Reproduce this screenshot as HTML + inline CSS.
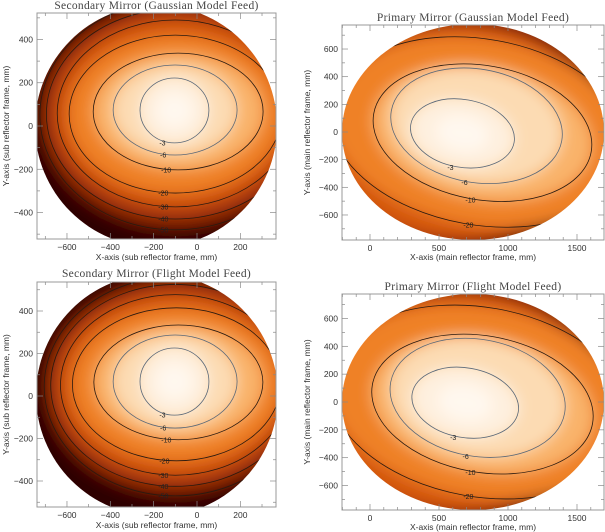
<!DOCTYPE html>
<html><head><meta charset="utf-8">
<style>
html,body{margin:0;padding:0;background:#fff;}
svg{display:block;font-family:"Liberation Sans",sans-serif;}
</style></head>
<body>
<svg id="chart" width="605" height="532" viewBox="0 0 605 532" xmlns="http://www.w3.org/2000/svg">
<defs>
<filter id="blur" x="-10%" y="-10%" width="120%" height="120%"><feGaussianBlur stdDeviation="7"/></filter>
</defs>
</svg>
<script>
// ---- data arrays ----
const levelsSec = [-3, -6, -10, -20, -30, -40, -50];
const secGaussCx = [-104, -101, -87, -100, -100, -100, -100];
const secGaussCy = [72, 74, 67, 55, 58, 55, 50];
const secGaussA  = [159, 286, 392, 490, 545, 595, 625];
const secGaussB  = [150, 208, 270, 365, 432, 485, 530];
const secFlightCx = [-104, -101, -86, -95, -100, -100, -100];
const secFlightCy = [68, 68, 64, 55, 52, 50, 45];
const secFlightA  = [159, 286, 390, 480, 530, 575, 605];
const secFlightB  = [158, 219, 270, 360, 425, 475, 515];
const levelsPri = [-3, -6, -10, -20, -30, -40];
const priGaussCx = [670, 772, 815, 800, 650, 650];
const priGaussCy = [-10, 45, -5, 0, 0, 0];
const priGaussA  = [380, 627, 800, 1100, 980, 1080];
const priGaussB  = [245, 410, 485, 672, 760, 800];
const priFlightCx = [690, 780, 815, 800, 650, 650];
const priFlightCy = [-5, 30, -15, 0, 0, 0];
const priFlightA  = [390, 640, 810, 1110, 990, 1090];
const priFlightB  = [250, 420, 490, 680, 765, 805];
const secXTicks = [-600, -400, -200, 0, 200];
const secYTicks = [400, 200, 0, -200, -400];
const priXTicks = [0, 500, 1000, 1500];
const priYTicks = [600, 400, 200, 0, -200, -400, -600];
const titles = ["Secondary Mirror (Gaussian Model Feed)", "Primary Mirror (Gaussian Model Feed)",
                "Secondary Mirror (Flight Model Feed)", "Primary Mirror (Flight Model Feed)"];

// ---- layout ----
const panels = [
 {t:titles[0], box:[37,13,276,239], x0:197, sx:0.2167, y0:126, sy:0.2163, disk:[156,126,121,121], rot:0,
  lv:levelsSec, cx:secGaussCx, cy:secGaussCy, a:secGaussA, b:secGaussB, xt:secXTicks, yt:secYTicks, xminor:100, yminor:100,
  xl:"X-axis (sub reflector frame, mm)", yl:"Y-axis (sub reflector frame, mm)", ty:9, xly:260, edge:-65, nline:7},
 {t:titles[1], box:[342,25,604,240], x0:370, sx:0.138, y0:132, sy:0.1383, disk:[473,132,131,108], rot:10,
  lv:levelsPri, cx:priGaussCx, cy:priGaussCy, a:priGaussA, b:priGaussB, xt:priXTicks, yt:priYTicks, xminor:100, yminor:100,
  xl:"X-axis (main reflector frame, mm)", yl:"Y-axis (main reflector frame, mm)", ty:21, xly:260, edge:-50, nline:4},
 {t:titles[2], box:[37,282,276,507], x0:197, sx:0.2167, y0:396, sy:0.2125, disk:[157,395,121,121], rot:0,
  lv:levelsSec, cx:secFlightCx, cy:secFlightCy, a:secFlightA, b:secFlightB, xt:secXTicks, yt:secYTicks, xminor:100, yminor:100,
  xl:"X-axis (sub reflector frame, mm)", yl:"Y-axis (sub reflector frame, mm)", ty:277, xly:528, edge:-65, nline:7},
 {t:titles[3], box:[342,294,604,510], x0:370, sx:0.138, y0:402, sy:0.1392, disk:[473,402,131,108], rot:10,
  lv:levelsPri, cx:priFlightCx, cy:priFlightCy, a:priFlightA, b:priFlightB, xt:priXTicks, yt:priYTicks, xminor:100, yminor:100,
  xl:"X-axis (main reflector frame, mm)", yl:"Y-axis (main reflector frame, mm)", ty:290, xly:530, edge:-50, nline:4}
];

const stops = [[0,[255,251,245]],[-3,[253,232,208]],[-6,[251,205,150]],[-10,[247,152,62]],[-20,[230,106,18]],
               [-30,[196,72,8]],[-40,[146,40,5]],[-50,[92,18,2]],[-65,[45,6,0]]];
function color(db){
  for(let i=0;i<stops.length-1;i++){
    const [l1,c1]=stops[i],[l2,c2]=stops[i+1];
    if(db<=l1 && db>=l2){const t=(l1-db)/(l1-l2);
      return 'rgb('+c1.map((v,k)=>Math.round(v+(c2[k]-v)*t)).join(',')+')';}
  }
  return 'rgb(45,6,0)';
}
const NS="http://www.w3.org/2000/svg";
const svg=document.getElementById('chart');
function mk(tag,attrs,parent){const e=document.createElementNS(NS,tag);for(const k in attrs)e.setAttribute(k,attrs[k]);(parent||svg).appendChild(e);return e;}

panels.forEach((p,pi)=>{
  const X=v=>p.x0+v*p.sx, Y=v=>p.y0-v*p.sy;
  const [bx1,by1,bx2,by2]=p.box;
  const g=mk('g',{});
  
  
  const clipId='clip'+pi;
  const cp=mk('clipPath',{id:clipId},g);
  mk('rect',{x:bx1,y:by1,width:bx2-bx1,height:by2-by1},cp);
  const cpd=mk('clipPath',{id:'dk'+pi},g);
  mk('ellipse',{cx:p.disk[0],cy:p.disk[1],rx:p.disk[2],ry:p.disk[3]},cpd);
  const boxG=mk('g',{'clip-path':'url(#'+clipId+')'},g);
  const diskG=mk('g',{'clip-path':'url(#dk'+pi+')'},boxG);
  
  
  const fillG=mk('g',{filter:'url(#blur)'},diskG);
  mk('rect',{x:bx1-20,y:by1-20,width:bx2-bx1+40,height:by2-by1+40,fill:color(p.edge)},fillG);
  for(let i=p.lv.length-1;i>=0;i--){
    const lvl=i>0?(p.lv[i]+p.lv[i-1])/2:p.lv[0]*0.6;
    const cx=X(p.cx[i]),cy=Y(p.cy[i]);
    const r=i>=4&&p.rot?0:p.rot;
    mk('ellipse',{cx:cx,cy:cy,rx:p.a[i]*p.sx,ry:p.b[i]*p.sy,fill:color(lvl),transform:`rotate(${r} ${cx} ${cy})`},fillG);
  }
  const c0x=X(p.cx[0]),c0y=Y(p.cy[0]);
  mk('ellipse',{cx:c0x,cy:c0y,rx:p.a[0]*p.sx*0.5,ry:p.b[0]*p.sy*0.5,fill:color(-0.5),transform:`rotate(${p.rot} ${c0x} ${c0y})`},fillG);
  for(let i=0;i<p.nline;i++){
    const cx=X(p.cx[i]),cy=Y(p.cy[i]);
    const r=p.rot;
    const e=mk('ellipse',{cx:cx,cy:cy,rx:p.a[i]*p.sx,ry:p.b[i]*p.sy,fill:'none',stroke:i<2?'#5a6878':'#2a1a10','stroke-width':0.8,transform:`rotate(${r} ${cx} ${cy})`},diskG);
    
    
    const ly=cy+p.b[i]*p.sy;
    if(ly<by2-4){
      const t=mk('text',{x:cx-12,y:ly+2.5,'font-size':7,fill:'#222','text-anchor':'middle'},diskG);
      t.textContent=String(p.lv[i]);
      
      
    }
  }
  const fr=mk('rect',{x:bx1,y:by1,width:bx2-bx1,height:by2-by1,fill:'none',stroke:'#999','stroke-width':1},g);
  
  
  const xmin=(bx1-p.x0)/p.sx, xmax=(bx2-p.x0)/p.sx;
  for(let v=Math.ceil(xmin/p.xminor)*p.xminor; v<=xmax; v+=p.xminor){
    const major=p.xt.includes(v)||(Math.abs(v)%(p.xt[1]-p.xt[0])===0);
    const L=major?6:3, x=X(v);
    mk('line',{x1:x,y1:by2,x2:x,y2:by2-L,stroke:'#888','stroke-width':0.7},g);
    mk('line',{x1:x,y1:by1,x2:x,y2:by1+L,stroke:'#888','stroke-width':0.7},g);
  }
  const ymin=(p.y0-by2)/p.sy, ymax=(p.y0-by1)/p.sy;
  for(let v=Math.ceil(ymin/p.yminor)*p.yminor; v<=ymax; v+=p.yminor){
    const major=(Math.abs(v)%200===0);
    const L=major?6:3, y=Y(v);
    mk('line',{x1:bx1,y1:y,x2:bx1+L,y2:y,stroke:'#888','stroke-width':0.7},g);
    mk('line',{x1:bx2,y1:y,x2:bx2-L,y2:y,stroke:'#888','stroke-width':0.7},g);
  }
  p.xt.forEach(v=>{
    const t=mk('text',{x:X(v),y:by2+11,'font-size':8.5,fill:'#333','text-anchor':'middle'},g);
    t.textContent=String(v).replace('-','\u2212');
    
    
  });
  p.yt.forEach(v=>{
    const t=mk('text',{x:bx1-4,y:Y(v)+3,'font-size':8.5,fill:'#333','text-anchor':'end'},g);
    t.textContent=String(v).replace('-','\u2212');
    
    
  });
  const tt=mk('text',{x:(bx1+bx2)/2,y:p.ty,'font-size':11.5,fill:'#444','text-anchor':'middle','font-family':'"Liberation Serif",serif','letter-spacing':0.3},g);
  tt.textContent=p.t;
  
  
  const xl=mk('text',{x:(bx1+bx2)/2,y:p.xly,'font-size':8.5,fill:'#333','text-anchor':'middle'},g);
  xl.textContent=p.xl;
  
  
  const yx=pi%2===0?6:bx1-35, ym=(by1+by2)/2;
  const yl=mk('text',{x:yx,y:ym,'font-size':8.5,fill:'#333','text-anchor':'middle',transform:`rotate(-90 ${yx} ${ym})`,dy:3},g);
  yl.textContent=p.yl;
  
  
});
</script>
</body></html>
